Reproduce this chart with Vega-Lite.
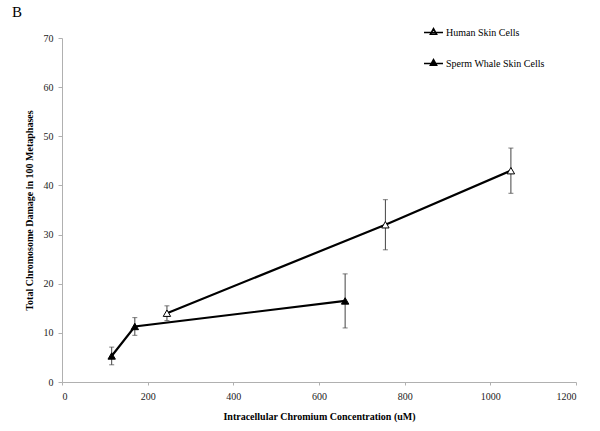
{
  "$schema": "https://vega.github.io/schema/vega-lite/v6.json",
  "width": 514,
  "height": 344,
  "autosize": {"type": "none"},
  "padding": {"left": 62, "top": 38, "right": 24, "bottom": 49},
  "background": "white",
  "title": {"text": "B", "anchor": "start", "frame": "group", "dx": -50, "dy": 16, "offset": 18, "fontSize": 15, "font": "Liberation Serif", "fontWeight": "normal", "color": "#000"},
  "config": {
    "view": {"stroke": null},
    "font": "Liberation Serif",
    "axis": {
      "grid": false,
      "domainColor": "#b0b0b0",
      "tickColor": "#b0b0b0",
      "labelFont": "Liberation Serif",
      "labelFontSize": 10,
      "labelColor": "#222",
      "titleFont": "Liberation Serif",
      "titleFontSize": 10,
      "titleFontWeight": "bold",
      "titleColor": "#000"
    }
  },
  "data": {
    "values": [
      {"series": "Human Skin Cells", "conc": 245, "damage": 14.0, "lo": 12.5, "hi": 15.5},
      {"series": "Human Skin Cells", "conc": 755, "damage": 32.0, "lo": 26.9, "hi": 37.1},
      {"series": "Human Skin Cells", "conc": 1048, "damage": 43.0, "lo": 38.4, "hi": 47.6},
      {"series": "Sperm Whale Skin Cells", "conc": 116, "damage": 5.3, "lo": 3.5, "hi": 7.1},
      {"series": "Sperm Whale Skin Cells", "conc": 170, "damage": 11.3, "lo": 9.5, "hi": 13.1},
      {"series": "Sperm Whale Skin Cells", "conc": 661, "damage": 16.5, "lo": 11.0, "hi": 22.0}
    ]
  },
  "encoding": {
    "x": {
      "field": "conc", "type": "quantitative",
      "scale": {"domain": [0, 1200], "nice": false, "zero": false},
      "axis": {"values": [0, 200, 400, 600, 800, 1000, 1200], "format": "d", "tickSize": 3, "labelPadding": 6, "titlePadding": 10, "title": "Intracellular Chromium Concentration (uM)"}
    }
  },
  "layer": [
    {
      "mark": {"type": "errorbar", "ticks": {"size": 5, "color": "#444", "strokeWidth": 1}, "rule": {"color": "#444", "strokeWidth": 1}},
      "encoding": {
        "y": {"field": "lo", "type": "quantitative", "scale": {"domain": [0, 70], "nice": false}, "title": "Total Chromosome Damage in 100 Metaphases"},
        "y2": {"field": "hi"},
        "detail": {"field": "series"}
      }
    },
    {
      "mark": {"type": "line", "color": "black", "strokeWidth": 2.2},
      "encoding": {
        "y": {"field": "damage", "type": "quantitative", "scale": {"domain": [0, 70], "nice": false},
          "axis": {"values": [0, 10, 20, 30, 40, 50, 60, 70], "tickSize": 4, "labelPadding": 5, "titlePadding": 9, "title": "Total Chromosome Damage in 100 Metaphases"}},
        "detail": {"field": "series"}
      }
    },
    {
      "mark": {"type": "point", "shape": "triangle-up", "size": 55, "stroke": "black", "strokeWidth": 1, "filled": false, "opacity": 1},
      "encoding": {
        "y": {"field": "damage", "type": "quantitative"},
        "fill": {
          "field": "series", "type": "nominal",
          "scale": {"domain": ["Human Skin Cells", "Sperm Whale Skin Cells"], "range": ["white", "black"]},
          "legend": {
            "title": null,
            "orient": "none",
            "legendX": 361,
            "legendY": -16,
            "symbolType": "M-1,0H1M0,-0.4L0.32,0.18L-0.32,0.18Z",
            "symbolSize": 360,
            "symbolStrokeColor": "black",
            "symbolStrokeWidth": 1.6,
            "symbolOpacity": 1,
            "labelFont": "Liberation Serif",
            "labelFontSize": 10,
            "labelColor": "#000",
            "labelOffset": 2,
            "rowPadding": 15
          }
        }
      }
    }
  ]
}
